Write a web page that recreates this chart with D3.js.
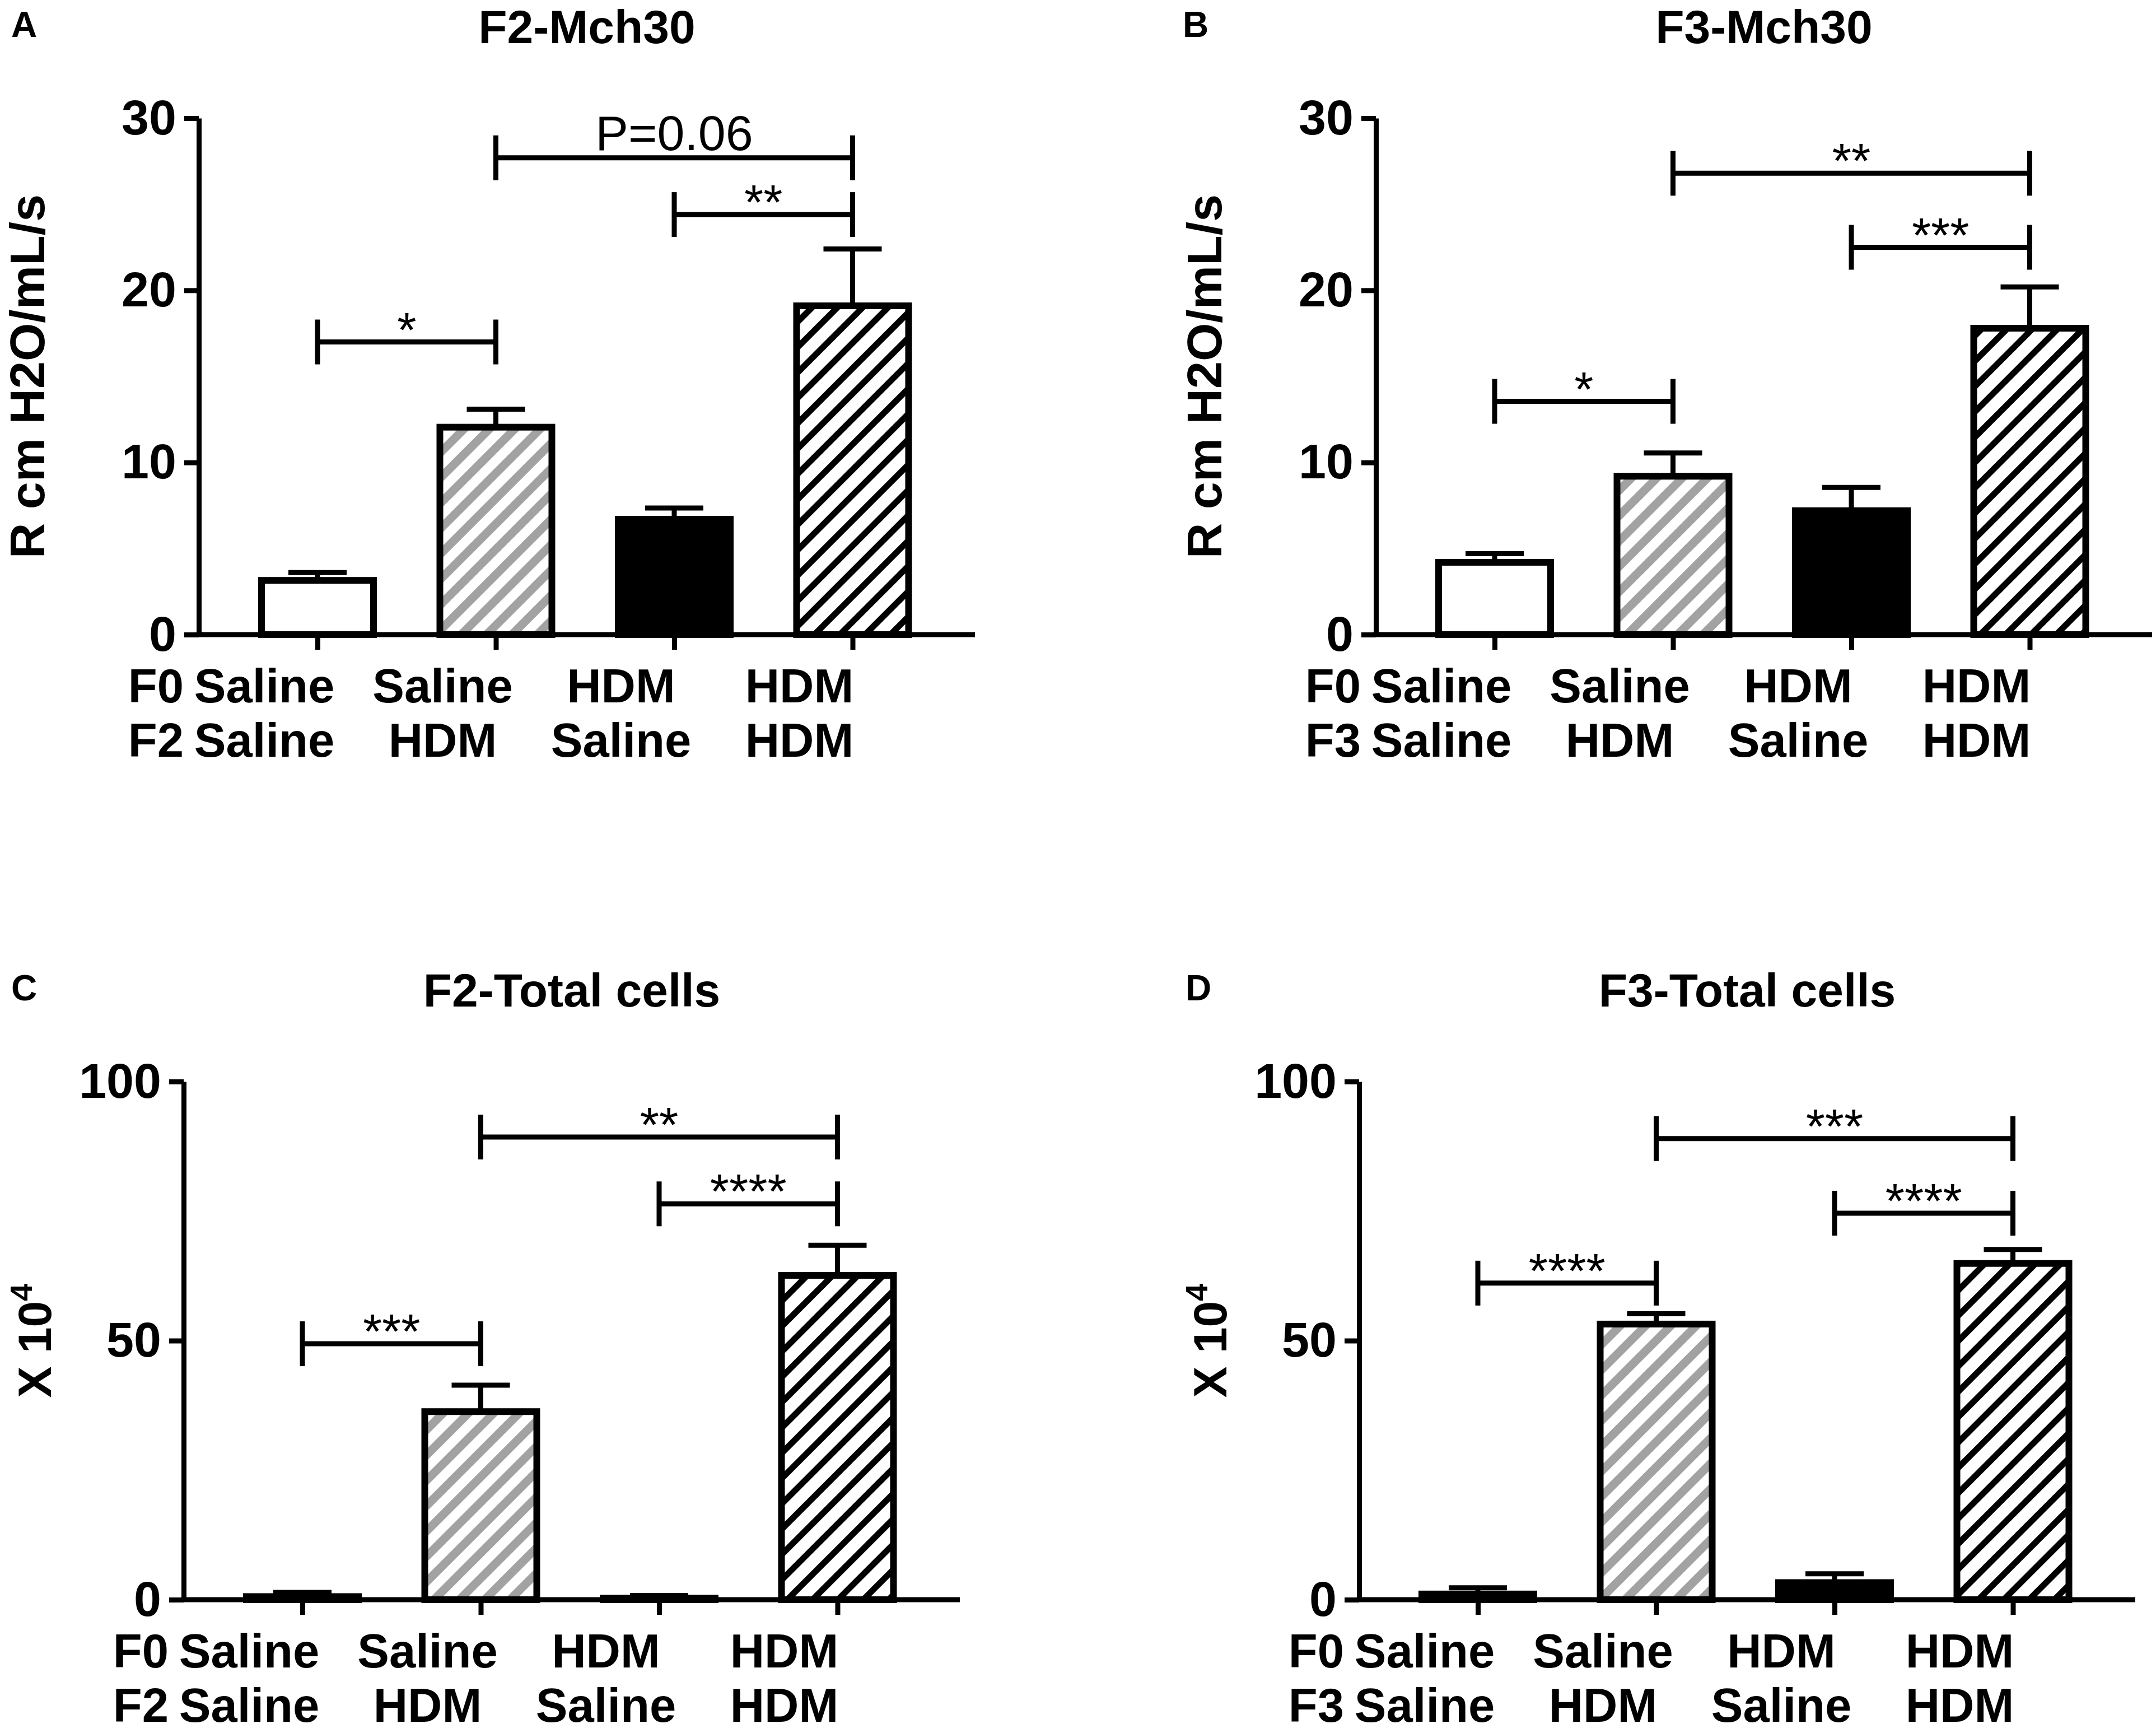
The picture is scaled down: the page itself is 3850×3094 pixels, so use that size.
<!DOCTYPE html>
<html><head><meta charset="utf-8">
<script src="https://cdn.jsdelivr.net/npm/d3@7"></script>
<style>html,body{margin:0;padding:0;background:#fff}</style>
</head><body>
<svg id="chart" width="3850" height="3094" xmlns="http://www.w3.org/2000/svg"></svg>
<script>
// ---------------- data ----------------
const groups = ["SS", "SH", "HS", "HH"];
const row1Labels = ["Saline", "Saline", "HDM", "HDM"];
const row2Labels = ["Saline", "HDM", "Saline", "HDM"];
const fillKinds = ["white", "grayHatch", "black", "blackHatch"];

const panelLetters = ["A", "B", "C", "D"];
const panelTitles = ["F2-Mch30", "F3-Mch30", "F2-Total cells", "F3-Total cells"];
const rowTitlesA = ["F0", "F2"];
const rowTitlesB = ["F0", "F3"];
const rowTitlesC = ["F0", "F2"];
const rowTitlesD = ["F0", "F3"];

const yLabelMch = "R cm H2O/mL/s";
const yLabelCellsMain = "X 10";
const yLabelCellsSup = "4";

const ticksMch = [0, 10, 20, 30];
const ticksCells = [0, 50, 100];
const yMaxMch = 30;
const yMaxCells = 100;

// means and SEM (upper error bar)
const meansA = [3.15, 12.05, 6.7, 19.1];
const semA   = [0.45, 1.05, 0.65, 3.3];
const meansB = [4.2, 9.2, 7.2, 17.8];
const semB   = [0.5, 1.35, 1.35, 2.4];
const meansC = [0.6, 36.3, 0.3, 62.6];
const semC   = [0.8, 5.1, 0.5, 5.8];
const meansD = [1.1, 53.2, 3.3, 64.9];
const semD   = [1.2, 2.0, 1.7, 2.7];

// significance brackets: [fromIndex, toIndex, yValue, label]
const bracketsA = [[0, 1, 17.0, "*"], [1, 3, 27.7, "P=0.06"], [2, 3, 24.4, "**"]];
const bracketsB = [[0, 1, 13.55, "*"], [1, 3, 26.8, "**"], [2, 3, 22.5, "***"]];
const bracketsC = [[0, 1, 49.4, "***"], [1, 3, 89.3, "**"], [2, 3, 76.4, "****"]];
const bracketsD = [[0, 1, 61.1, "****"], [1, 3, 89.0, "***"], [2, 3, 74.6, "****"]];

// ---------------- layout ----------------
const FONT = "'Liberation Sans', Arial, Helvetica, sans-serif";
const svg = d3.select("#chart");
svg.append("rect").attr("width", 3850).attr("height", 3094).attr("fill", "#fff");

const defs = svg.append("defs");
function hatch(id, color, thick) {
  const p = defs.append("pattern").attr("id", id)
    .attr("patternUnits", "userSpaceOnUse")
    .attr("width", 32).attr("height", 32)
    .attr("patternTransform", "rotate(45)");
  p.append("rect").attr("width", 32).attr("height", 32).attr("fill", "#fff");
  p.append("rect").attr("x", 0).attr("y", 0).attr("width", thick).attr("height", 32).attr("fill", color);
}
hatch("grayHatch", "#a2a2a2", 15);
hatch("blackHatch", "#000", 11);
const fillFor = k => k === "white" ? "#fff" : k === "black" ? "#000" : `url(#${k})`;

const layout = [
  {x0: 355,  yTop: 211,  y0: 1133, letterX: 20},
  {x0: 2457, yTop: 211,  y0: 1133, letterX: 2112},
  {x0: 328,  yTop: 1931, y0: 2856, letterX: 20},
  {x0: 2427, yTop: 1931, y0: 2856, letterX: 2117}
];

const panels = [
  {means: meansA, sem: semA, brackets: bracketsA, rows: rowTitlesA, ticks: ticksMch, ymax: yMaxMch, ylab: "mch"},
  {means: meansB, sem: semB, brackets: bracketsB, rows: rowTitlesB, ticks: ticksMch, ymax: yMaxMch, ylab: "mch"},
  {means: meansC, sem: semC, brackets: bracketsC, rows: rowTitlesC, ticks: ticksCells, ymax: yMaxCells, ylab: "cells"},
  {means: meansD, sem: semD, brackets: bracketsD, rows: rowTitlesD, ticks: ticksCells, ymax: yMaxCells, ylab: "cells"}
];

const STEP = 318.5, FIRST = 212, PLOTW = 1386, BW = 200;
const LW = 9;

panels.forEach((p, i) => {
  const L = layout[i];
  const g = svg.append("g");
  const x = d3.scalePoint().domain(groups).range([L.x0 + FIRST, L.x0 + FIRST + 3 * STEP]);
  const y = d3.scaleLinear().domain([0, p.ymax]).range([L.y0, L.yTop]);
  const data = groups.map((k, j) => ({k, j, m: p.means[j], s: p.sem[j], fill: fillKinds[j]}));

  // error bars (upper only)
  g.selectAll(".eb").data(data).enter().append("line")
    .attr("x1", d => x(d.k)).attr("x2", d => x(d.k))
    .attr("y1", d => y(d.m)).attr("y2", d => y(d.m + d.s))
    .attr("stroke", "#000").attr("stroke-width", LW);
  g.selectAll(".cap").data(data).enter().append("line")
    .attr("x1", d => x(d.k) - 52).attr("x2", d => x(d.k) + 52)
    .attr("y1", d => y(d.m + d.s)).attr("y2", d => y(d.m + d.s))
    .attr("stroke", "#000").attr("stroke-width", LW);

  // bars
  g.selectAll(".bar").data(data).enter().append("rect")
    .attr("x", d => x(d.k) - BW / 2).attr("width", BW)
    .attr("y", d => y(d.m)).attr("height", d => y(0) - y(d.m))
    .attr("fill", d => fillFor(d.fill))
    .attr("stroke", "#000").attr("stroke-width", 12);

  // y axis
  const yAxis = d3.axisLeft(y).tickValues(p.ticks).tickSize(26).tickSizeOuter(0).tickPadding(14).tickFormat(d3.format("d"));
  const ya = g.append("g").attr("transform", `translate(${L.x0},0)`).call(yAxis);
  ya.select(".domain").attr("stroke-width", LW).attr("stroke", "#000");
  ya.selectAll(".tick line").attr("stroke-width", LW).attr("stroke", "#000");
  ya.selectAll(".tick text").attr("font-family", FONT).attr("font-weight", "bold")
    .attr("font-size", 88).attr("fill", "#000");

  // x axis
  const xAxis = d3.axisBottom(x).tickSize(27).tickSizeOuter(0).tickFormat("");
  const xa = g.append("g").attr("transform", `translate(0,${L.y0})`).call(xAxis);
  xa.select(".domain").remove();
  xa.selectAll(".tick line").attr("stroke-width", LW).attr("stroke", "#000");
  g.append("line").attr("x1", L.x0 - LW / 2).attr("x2", L.x0 + PLOTW)
    .attr("y1", L.y0).attr("y2", L.y0).attr("stroke", "#000").attr("stroke-width", LW);

  // x category labels (two rows)
  [row1Labels, row2Labels].forEach((labels, r) => {
    const by = L.y0 + 121 + r * 97;
    g.selectAll(null).data(labels).enter().append("text")
      .attr("x", (d, j) => x(groups[j]) - 95).attr("y", by)
      .attr("text-anchor", "middle").attr("font-family", FONT).attr("font-weight", "bold")
      .attr("font-size", 85).text(d => d);
    g.append("text").attr("x", L.x0 - 27).attr("y", by)
      .attr("text-anchor", "end").attr("font-family", FONT).attr("font-weight", "bold")
      .attr("font-size", 85).text(p.rows[r]);
  });

  // brackets
  p.brackets.forEach(b => {
    const xa1 = x(groups[b[0]]), xb1 = x(groups[b[1]]), yy = y(b[2]);
    g.append("line").attr("x1", xa1).attr("x2", xb1).attr("y1", yy).attr("y2", yy)
      .attr("stroke", "#000").attr("stroke-width", LW);
    [xa1, xb1].forEach(xx => g.append("line").attr("x1", xx).attr("x2", xx)
      .attr("y1", yy - 40).attr("y2", yy + 40).attr("stroke", "#000").attr("stroke-width", LW));
    const isStars = /^\*+$/.test(b[3]);
    g.append("text").attr("x", (xa1 + xb1) / 2).attr("y", isStars ? yy + 8 : yy - 14)
      .attr("text-anchor", "middle").attr("font-family", FONT)
      .attr("font-size", 88).text(b[3]);
  });

  // title
  g.append("text").attr("x", L.x0 + PLOTW / 2).attr("y", L.yTop - 134)
    .attr("text-anchor", "middle").attr("font-family", FONT).attr("font-weight", "bold")
    .attr("font-size", 84).text(panelTitles[i]);

  // panel letter
  g.append("text").attr("x", L.letterX).attr("y", L.yTop - 145)
    .attr("font-family", FONT).attr("font-weight", "bold")
    .attr("font-size", 64).text(panelLetters[i]);

  // y label
  const yc = (L.y0 + L.yTop) / 2;
  if (p.ylab === "mch") {
    g.append("text").attr("transform", `translate(${L.x0 - 276},${yc}) rotate(-90)`)
      .attr("text-anchor", "middle").attr("font-family", FONT).attr("font-weight", "bold")
      .attr("font-size", 88).text(yLabelMch);
  } else {
    const t = g.append("text").attr("transform", `translate(${L.x0 - 237},${yc}) rotate(-90)`)
      .attr("text-anchor", "middle").attr("font-family", FONT).attr("font-weight", "bold")
      .attr("font-size", 84);
    t.append("tspan").text(yLabelCellsMain);
    t.append("tspan").attr("dy", -34).attr("font-size", 56).text(yLabelCellsSup);
  }
});
</script>
</body></html>
